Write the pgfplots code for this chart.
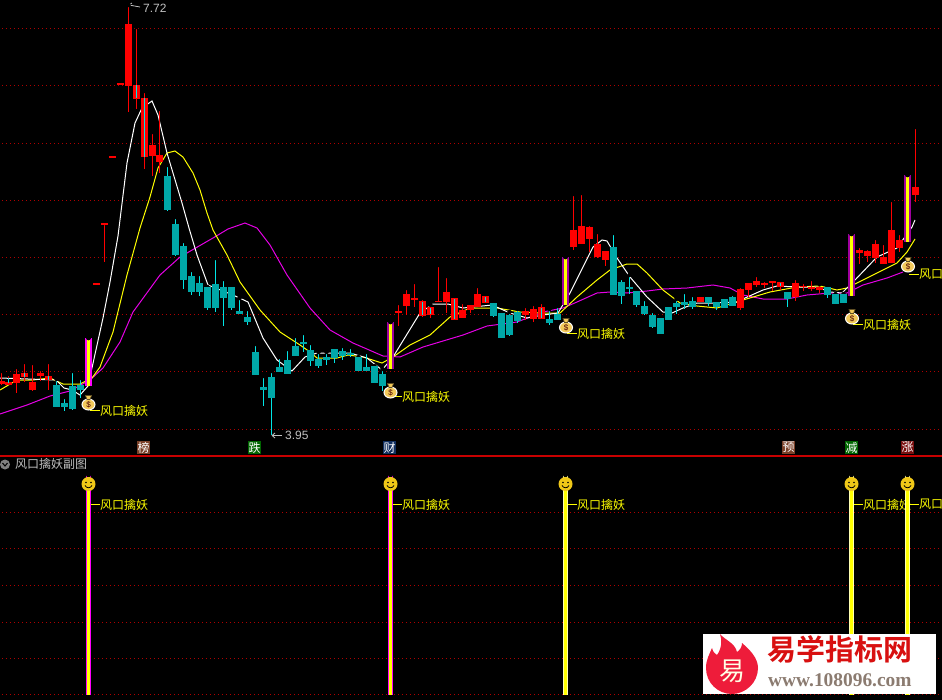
\documentclass[border=0pt]{standalone}
\usepackage{pgfplots}
\pgfplotsset{compat=1.18}
\usepackage{pgfplotstable}
\usepackage{fontspec}
\setmainfont{Liberation Sans}
\newfontfamily\cjk{Noto Sans CJK SC}
\newfontfamily\cjkb{Noto Sans CJK SC Bold}
\newfontfamily\serifb{Liberation Serif Bold}
\definecolor{yellow}{rgb}{1,1,0}
\definecolor{magenta}{rgb}{1,0,1}
\definecolor{tealbody}{HTML}{00A8A8}
\definecolor{tealwick}{HTML}{00E6E6}
\definecolor{pillarm}{HTML}{A000A0}
\definecolor{griddot}{HTML}{B00000}
\definecolor{sepred}{HTML}{C80000}
\definecolor{labelgray}{HTML}{C0C0C0}
\definecolor{bagfill}{HTML}{F2C95A}
\definecolor{faceyellow}{HTML}{F0C818}
\definecolor{chipbrown}{HTML}{7A4028}
\definecolor{chipgreen}{HTML}{006600}
\definecolor{chipnavy}{HTML}{123060}
\definecolor{chipred}{HTML}{7A1010}
\definecolor{logored}{HTML}{D81010}
\definecolor{flame}{HTML}{EE1C3A}
\definecolor{urlgray}{HTML}{8B7B70}

% x high low top bottom (screen pixels; the chart has no price scale besides 7.72 and 3.95)
\pgfplotstableread{
x hi lo top bot
1.5 371 385 381 384
8.5 374 385 382 385
16.5 367 393 374 383
24.5 362 382 373 377
32.5 363 391 382 390
40.5 369 381 373 376
48.5 362 390 376 380
96.5 283 284.5 283 284.5
104.5 223 262 223 224.5
112.5 156 157.5 156 157.5
120.5 83 84.5 83 84.5
128.5 5 112 24 86
136.5 27 109 85 99
144.5 91 169 98 157
152.5 132 176 145 156
159.5 109 173 155 162
398.5 303 326 311 313
406.5 288 315 294 306
414.5 282 307 298 300
422.5 298 317 301 316
430.5 305 318 307 315
438.5 265 302 300.5 302
446.5 276 313 292 302
454.5 297 320 298 320
462.5 302 318 310 318
470.5 304 313 305 310
477.5 286 307 294 307
485.5 295 303 296 303
525.5 306 320 311 315
533.5 304 322 309 319
541.5 302 319 307 319
573.5 194 250 230 247
581.5 193 244 226 244
589.5 224 252 227 239
597.5 232 258 244 257
605.5 251 266 251 260
700.5 297 302 297 302
740.5 286 310 289 308
748.5 282 297 283 290
756.5 275 287 281 285
764.5 280 288 283 285
772.5 280 291 281 283
780.5 282 290 282 287
795.5 278 301 283 297
803.5 282 291 285.5 287
811.5 279 291 287 289
819.5 284 293 287 290
859.5 246 264 250 253
867.5 248 262 251 256
875.5 238 263 244 258
883.5 243 264 257 264
891.5 200 263 230 263
899.5 233 252 240 248
915.5 127 202 187 195
}\redbars

\pgfplotstableread{
x hi lo top bot
56.5 379 407 385 407
64.5 397 411 403 407
72.5 371 410 386 409
80.5 378 398 385 390
167.5 165 211 176 210
175.5 217 256 224 255
183.5 241 289 246 280
191.5 270 295 276 292
199.5 274 296 283 292
207.5 287 310 287 308
215.5 258 312 284 308
223.5 279 326 287 298
231.5 287 310 287 308
239.5 298 314 311 314
247.5 309 325 317 322
255.5 344 375 352 375
263.5 376 406 387 390
271.5 371 435 377 398
279.5 357 372 367 372
287.5 349 374 360 374
295.5 336 356 346 356
303.5 333 352 342 344
310.5 343 366 350 361
318.5 352 368 359 366
326.5 352 365 357 360
334.5 349 363 349 358
342.5 346 360 351 356
350.5 347 357 353 355
358.5 357 371 357 371
366.5 352 371 367 371
374.5 366 383 366 383
382.5 369 391 374 386
493.5 302 317 303 316
501.5 313 338 313 338
509.5 312 336 315 335
517.5 309 323 312 321
549.5 309 325 319 323
557.5 306 320 314 320
613.5 233 295 247 295
621.5 278 304 282 296
629.5 275 294 287 289
636.5 289 307 291 305
644.5 299 315 306 314
652.5 311 328 315 327
660.5 318 334 318 334
668.5 306 320 307 320
676.5 299 314 303 307
684.5 292 309 302 305
692.5 295 309 301 307
708.5 296 306 297 303
716.5 302 310 302 307
724.5 299 308 299 308
732.5 294 306 297 306
787.5 292 307 292 299
827.5 287 298 287 295
835.5 294 304 294 304
843.5 294 303 294 303
}\tealbars

% red candles with a cyan stroke through the body
\pgfplotstableread{
x top bot
8.5 378 383
24.5 373 377
48.5 376 380
136.5 85 98
144.5 98 157
422.5 302 315
430.5 308 314
454.5 299 319
485.5 297 302
541.5 308 318
780.5 283 286
}\innercyan

\pgfplotstableread{
x top bot
390.5 322 369
565.5 257 305
851.5 234 296
907.5 175 242
}\pillars
\pgfplotstableread{
x top bot
88.5 338 386
}\firstpillar

\pgfplotstableread{
x top bot
88.5 475 695
390.5 475 695
}\lowermag
\pgfplotstableread{
x top bot
565.5 475 695
851.5 475 695
907.5 475 695
}\lowerylw

\pgfplotstableread{
x y
88.5 403
390.5 391
566 326
852 317
908 265
}\bags
\pgfplotstableread{
x y
88.5 484
390.5 484
565.5 484
851.5 484
907.5 484
}\faces

\pgfdeclareplotmark{bag}{%
  \pgfsetfillcolor{bagfill}\pgfsetstrokecolor{white}\pgfsetlinewidth{1pt}%
  \pgfpathellipse{\pgfpoint{0pt}{-1.5pt}}{\pgfpoint{6.5pt}{0pt}}{\pgfpoint{0pt}{-5.5pt}}%
  \pgfusepathqfillstroke
  \pgfsetfillcolor{bagfill}\pgfsetstrokecolor{black!60!bagfill}\pgfsetlinewidth{0.7pt}%
  \pgfpathmoveto{\pgfpoint{-3pt}{7.5pt}}\pgfpathlineto{\pgfpoint{3pt}{7.5pt}}\pgfpathlineto{\pgfpoint{1.5pt}{3.5pt}}\pgfpathlineto{\pgfpoint{-1.5pt}{3.5pt}}\pgfpathclose
  \pgfusepathqfillstroke
  \pgftext[at=\pgfpoint{0pt}{-1.5pt}]{\color{black!70!red}\fontsize{8}{8}\selectfont\$}%
}
\pgfdeclareplotmark{face}{%
  \pgfsetfillcolor{faceyellow}\pgfsetstrokecolor{faceyellow}%
  \pgfpathcircle{\pgfpointorigin}{7pt}\pgfusepathqfill
  \pgfsetfillcolor{black}%
  \pgfpathcircle{\pgfpoint{-2.5pt}{1.5pt}}{0.8pt}\pgfpathcircle{\pgfpoint{2.5pt}{1.5pt}}{0.8pt}\pgfusepathqfill
  \pgfsetstrokecolor{black}\pgfsetlinewidth{0.8pt}%
  \pgfpathmoveto{\pgfpoint{-3.5pt}{-1.5pt}}\pgfpathcurveto{\pgfpoint{-2pt}{-4.5pt}}{\pgfpoint{2pt}{-4.5pt}}{\pgfpoint{3.5pt}{-1.5pt}}\pgfusepathqstroke
}
% candle body: a rectangle hanging from the point, its height carried by the point meta
\pgfdeclareplotmark{bodyred}{%
  \pgfsetfillcolor{red}%
  \pgfpathrectangle{\pgfpoint{-3.5pt}{0pt}}{\pgfpoint{7pt}{-\pgfplotspointmetatransformed pt}}\pgfusepathqfill
}
\pgfdeclareplotmark{bodyteal}{%
  \pgfsetfillcolor{tealbody}%
  \pgfpathrectangle{\pgfpoint{-3.5pt}{0pt}}{\pgfpoint{7pt}{-\pgfplotspointmetatransformed pt}}\pgfusepathqfill
}
\pgfdeclareplotmark{bodycyan}{%
  \pgfsetfillcolor{tealwick}%
  \pgfpathrectangle{\pgfpoint{-0.5pt}{0pt}}{\pgfpoint{1pt}{-\pgfplotspointmetatransformed pt}}\pgfusepathqfill
}
\pgfplotsset{
  bars/.style args={#1/#2}{only marks, mark=none, forget plot,
    error bars/.cd, y dir=plus, y explicit, error mark=none,
    error bar style={line width=#1pt, color=#2}},
  griddots/.style={griddot, line width=1pt, dash pattern=on 1pt off 3pt, forget plot, no marks},
  bodies/.style={only marks, scatter, mark=#1, forget plot,
    point meta=\thisrow{bot}-\thisrow{top},
    scatter/@pre marker code/.code={},
    scatter/@post marker code/.code={}},
}
\newcommand{\chip}[3]{\node[fill=#2,text=white,inner sep=0pt,minimum width=13pt,minimum height=13pt,font=\cjk\fontsize{12}{12}\selectfont] at (axis cs:#1,447.5) {#3};}
\newcommand{\lbl}[4]{\draw[yellow,line width=1pt] (axis cs:#1,#2.5)--(axis cs:#3,#2.5);
  \node[anchor=west,text=yellow,inner sep=0pt,font=\cjk\fontsize{12}{12}\selectfont] at (axis cs:#3,#2.5) {#4};}

\begin{document}
\begin{tikzpicture}
\useasboundingbox (0,0) rectangle (942pt,699pt);
\fill[black] (-3pt,-3pt) rectangle (945pt,702pt);
\begin{axis}[
  at={(0,0)}, anchor=south west,
  scale only axis, width=942pt, height=699pt,
  xmin=0, xmax=942, ymin=0, ymax=699, y dir=reverse,
  axis lines=none,
  clip=true,
  point meta min=0, point meta max=1000,
]

% grids
\addplot[griddots] coordinates {(2,28.5)(942,28.5)};
\addplot[griddots] coordinates {(2,85.5)(942,85.5)};
\addplot[griddots] coordinates {(2,143.5)(942,143.5)};
\addplot[griddots] coordinates {(2,200.5)(942,200.5)};
\addplot[griddots] coordinates {(2,257.5)(942,257.5)};
\addplot[griddots] coordinates {(2,314.5)(942,314.5)};
\addplot[griddots] coordinates {(2,371.5)(942,371.5)};
\addplot[griddots] coordinates {(2,429.5)(942,429.5)};
\addplot[griddots] coordinates {(2,512.5)(942,512.5)};
\addplot[griddots] coordinates {(2,548.5)(942,548.5)};
\addplot[griddots] coordinates {(2,585.5)(942,585.5)};
\addplot[griddots] coordinates {(2,622.5)(942,622.5)};
\addplot[griddots] coordinates {(2,658.5)(942,658.5)};
\addplot[griddots] coordinates {(2,694.5)(942,694.5)};
% separator
\addplot[sepred, line width=2pt, forget plot, no marks] coordinates {(0,455.5)(942,455.5)};

% magenta line
\addplot[color={rgb,255:red,230;green,0;blue,230}, line width=1pt, no marks] coordinates {
(0,414)(27,405)(50,396)(70,391)(90,380)(103,368)(120,342)(133,312)(160,275)(180,257)(213,238)(228,229)(245,223)(257,228)(270,245)(287,275)(310,308)(330,330)(353,343)(383,356)(400,357)(423,347)(463,335)(487,326)(517,322)(543,312)(563,308)(577,302)(597,293)(610,292)(627,293)(647,291)(663,289)(687,288)(713,285)(730,288)(743,295)(763,299)(787,299)(807,295)(830,293)(847,293)(863,285)(887,278)(903,272)};
% yellow line
\addplot[yellow, line width=1pt, no marks] coordinates {
(0,390)(17,380)(33,380)(50,378)(63,384)(80,384)(92,378)(100,367)(113,332)(127,275)(140,228)(150,197)(158,168)(167,153)(175,151)(183,157)(193,173)(200,190)(207,213)(213,230)(227,255)(240,282)(260,310)(280,332)(300,345)(310,352)(317,358)(337,358)(348,355)(363,357)(382,363)(393,357)(410,345)(430,335)(450,317)(470,308)(497,308)(520,312)(543,313)(560,313)(577,297)(597,280)(610,270)(627,264)(637,264)(647,273)(663,290)(680,303)(697,306)(717,308)(743,300)(770,292)(797,287)(820,286)(837,290)(847,288)(857,283)(877,273)(897,263)(907,252)(915,239)};
% white line
\addplot[white, line width=1pt, no marks] coordinates {
(0,378)(56,380)(64,388)(72,390)(80,395)(88,386)(103,318)(110,282)(118,236)(127,163)(135,123)(142,108)(152,101)(158,115)(167,153)(182,203)(189,228)(197,255)(208,285)(233,295)(248,302)(263,338)(277,360)(292,371)(305,357)(317,353)(350,353)(367,358)(382,370)(393,357)(420,313)(433,304)(448,304)(463,308)(492,305)(510,313)(527,318)(543,315)(558,313)(570,293)(593,247)(602,240)(607,241)(617,258)(630,277)(647,297)(663,312)(672,313)(683,308)(697,303)(713,303)(737,302)(745,298)(763,290)(777,286)(797,287)(817,287)(830,292)(842,293)(847,288)(855,280)(877,257)(897,248)(912,227)(915,220)};

% candle wicks and bodies
\addplot[bars=1/red] table[x=x,y=hi,y error plus expr=\thisrow{lo}-\thisrow{hi}] {\redbars};
\addplot[bodies=bodyred] table[x=x,y=top] {\redbars};
\addplot[bars=1/tealwick] table[x=x,y=hi,y error plus expr=\thisrow{lo}-\thisrow{hi}] {\tealbars};
\addplot[bodies=bodyteal] table[x=x,y=top] {\tealbars};
\addplot[bodies=bodycyan] table[x=x,y=top] {\innercyan};

% signal pillars, upper panel
\addplot[bars=7/pillarm] table[x=x,y=top,y error plus expr=\thisrow{bot}-\thisrow{top}] {\pillars};
\addplot[bars=3/yellow] table[x=x,y=top,y error plus expr=\thisrow{bot}-\thisrow{top}] {\pillars};
\addplot[bars=7/magenta] table[x=x,y=top,y error plus expr=\thisrow{bot}-\thisrow{top}] {\firstpillar};
\addplot[bars=3/yellow] table[x=x,y=top,y error plus expr=\thisrow{bot}-\thisrow{top}] {\firstpillar};

% labels, upper
\lbl{90}{410}{100}{风口擒妖}
\lbl{392}{396}{402}{风口擒妖}
\lbl{567}{333}{577}{风口擒妖}
\lbl{853}{324}{863}{风口擒妖}
\lbl{909}{274}{919}{风口}
% labels, lower
\lbl{91}{504}{100}{风口擒妖}
\lbl{393}{504}{402}{风口擒妖}
\lbl{568}{504}{577}{风口擒妖}
\lbl{854}{504}{863}{风口擒妖}
\lbl{910}{504}{919}{风口}

% lower panel pillars
\addplot[bars=5/magenta] table[x=x,y=top,y error plus expr=\thisrow{bot}-\thisrow{top}] {\lowermag};
\addplot[bars=5/white!70!yellow] table[x=x,y=top,y error plus expr=\thisrow{bot}-\thisrow{top}] {\lowerylw};
\addplot[bars=2.4/yellow] table[x=x,y=top,y error plus expr=\thisrow{bot}-\thisrow{top}] {\lowermag};
\addplot[bars=3/yellow] table[x=x,y=top,y error plus expr=\thisrow{bot}-\thisrow{top}] {\lowerylw};

\addplot[only marks, mark=bag, forget plot] table[x=x,y=y] {\bags};
\addplot[only marks, mark=face, forget plot] table[x=x,y=y] {\faces};

% extreme labels
\draw[labelgray,line width=0.8pt] (axis cs:129,5)--(axis cs:140,7);
\draw[labelgray,line width=0.8pt] (axis cs:129,5)--(axis cs:132,3);
\node[anchor=west,text=labelgray,inner sep=0pt,font=\fontsize{12}{12}\selectfont] at (axis cs:143,8) {7.72};
\draw[labelgray,line width=0.8pt] (axis cs:272,435.5)--(axis cs:282,435.5);
\draw[labelgray,line width=0.8pt] (axis cs:272,435.5)--(axis cs:275,433);
\draw[labelgray,line width=0.8pt] (axis cs:272,435.5)--(axis cs:275,438);
\node[anchor=west,text=labelgray,inner sep=0pt,font=\fontsize{12}{12}\selectfont] at (axis cs:285,435) {3.95};

% chips
\chip{143.5}{chipbrown}{榜}
\chip{254.5}{chipgreen}{跌}
\chip{389.5}{chipnavy}{财}
\chip{788.5}{chipbrown}{预}
\chip{851.5}{chipgreen}{减}
\chip{907.5}{chipred}{涨}

% sub-chart title
\fill[gray] (axis cs:5,464.5) circle[radius=5pt];
\draw[black,line width=1pt] (axis cs:2.5,463)--(axis cs:5,466)--(axis cs:7.5,463);
\node[anchor=west,text=labelgray,inner sep=0pt,font=\cjk\fontsize{12}{12}\selectfont] at (axis cs:15,464) {风口擒妖副图};

% logo
\fill[white] (axis cs:703,634) rectangle (axis cs:936,694);
\fill[flame] (axis cs:720,634) .. controls (axis cs:725,640) and (axis cs:735,643) .. (axis cs:737,652)
  .. controls (axis cs:740,650) and (axis cs:742,647) .. (axis cs:742,643)
  .. controls (axis cs:750,650) and (axis cs:758,658) .. (axis cs:758,668)
  .. controls (axis cs:758,683) and (axis cs:745,694) .. (axis cs:732,694)
  .. controls (axis cs:718,694) and (axis cs:706,683) .. (axis cs:706,668)
  .. controls (axis cs:706,660) and (axis cs:709,655) .. (axis cs:712,648)
  .. controls (axis cs:713,652) and (axis cs:715,654) .. (axis cs:717,655)
  .. controls (axis cs:722,648) and (axis cs:722,640) .. (axis cs:720,634) -- cycle;
\node[text=white!90!yellow,inner sep=0pt,font=\cjk\fontsize{26}{26}\selectfont] at (axis cs:732,671) {易};
\node[anchor=west,text=logored,inner sep=0pt,font=\cjkb\fontsize{29}{29}\selectfont] at (axis cs:767,649) {易学指标网};
\node[anchor=west,text=urlgray,inner sep=0pt,font=\serifb\fontsize{19.4}{19.4}\selectfont] at (axis cs:768,680) {www.108096.com};
\end{axis}
\end{tikzpicture}
\end{document}
